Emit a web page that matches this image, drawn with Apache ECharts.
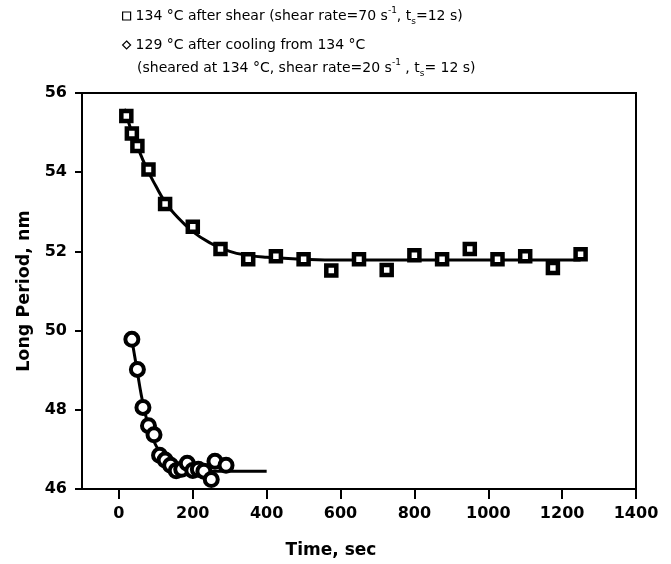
<!DOCTYPE html>
<html>
<head>
    <meta charset="utf-8">
    <title>Long Period vs Time</title>
    <script src="https://cdn.jsdelivr.net/npm/echarts@6/dist/echarts.min.js"></script>
    <style>
        html, body { margin: 0; padding: 0; background: #fff; }
        #chart { width: 671px; height: 564px; }
    </style>
</head>
<body>
    <div id="chart"></div>
    <script>
        // 134 C after shear (measured)
        var shearTime = [20, 35, 50, 80, 125, 200, 275, 350, 425, 500, 575, 650, 725, 800, 875, 950, 1025, 1100, 1175, 1250];
        var shearPeriod = [55.42, 54.98, 54.66, 54.07, 53.2, 52.62, 52.06, 51.8, 51.88, 51.8, 51.52, 51.8, 51.53, 51.9, 51.8, 52.06, 51.8, 51.88, 51.58, 51.93];
        // fitted curve
        var shearFitTime = [15, 30, 50, 75, 100, 125, 150, 200, 250, 300, 350, 400, 500, 600, 800, 1000, 1250];
        var shearFitPeriod = [55.6, 55.15, 54.65, 54.1, 53.65, 53.25, 52.95, 52.5, 52.2, 52.0, 51.9, 51.85, 51.8, 51.78, 51.78, 51.78, 51.78];

        // 129 C after cooling (measured)
        var coolTime = [35, 50, 65, 80, 95, 110, 125, 140, 155, 170, 185, 200, 215, 230, 250, 260, 290];
        var coolPeriod = [49.78, 49.02, 48.06, 47.6, 47.37, 46.85, 46.73, 46.6, 46.46, 46.5, 46.65, 46.47, 46.5, 46.45, 46.24, 46.7, 46.6];
        var coolFitTime = [33, 40, 50, 60, 70, 80, 95, 110, 125, 150, 175, 200, 250, 300, 400];
        var coolFitPeriod = [49.9, 49.5, 48.95, 48.4, 47.95, 47.6, 47.2, 46.95, 46.75, 46.6, 46.5, 46.47, 46.45, 46.45, 46.45];

        var xTicks = [0, 200, 400, 600, 800, 1000, 1200, 1400];

        function pairs(xs, ys) {
            return xs.map(function (x, i) { return [x, ys[i]]; });
        }

        var font = 'DejaVu Sans';
        var richSup = {
            sup: { fontSize: 9, verticalAlign: 'top', fontFamily: font, color: '#000' },
            sub: { fontSize: 9, verticalAlign: 'bottom', fontFamily: font, color: '#000' }
        };

        var nameA = '134 °C after shear';
        var nameB = '129 °C after cooling from 134 °C';

        var chart = echarts.init(document.getElementById('chart'));
        chart.setOption({
            animation: false,
            backgroundColor: '#fff',
            title: {
                text: '(sheared at 134 °C, shear rate=20 s{sup|-1} , t{sub|s}= 12 s)',
                left: 137,
                top: 58,
                padding: 0,
                textStyle: {
                    fontFamily: font, fontSize: 14, fontWeight: 'normal', color: '#000',
                    lineHeight: 20, rich: richSup
                }
            },
            legend: {
                orient: 'vertical',
                left: 122,
                top: 6,
                padding: 0,
                itemGap: 9,
                itemWidth: 8,
                itemHeight: 8,
                selectedMode: false,
                data: [
                    { name: nameA, icon: 'rect', itemStyle: { color: '#fff', borderColor: '#000', borderWidth: 1.2 } },
                    { name: nameB, icon: 'diamond', itemStyle: { color: '#fff', borderColor: '#000', borderWidth: 1.2 } }
                ],
                formatter: function (name) {
                    if (name === nameA) {
                        return '134 °C after shear (shear rate=70 s{sup|-1}, t{sub|s}=12 s)';
                    }
                    return name;
                },
                textStyle: {
                    fontFamily: font, fontSize: 14, color: '#000', lineHeight: 20, rich: richSup
                }
            },
            grid: {
                left: 82, right: 35, top: 93, bottom: 69,
                show: true, borderColor: '#000', borderWidth: 2
            },
            xAxis: {
                type: 'value',
                min: -100, max: 1400,
                name: 'Time, sec',
                nameLocation: 'middle',
                nameGap: 53,
                nameTextStyle: {
                    fontFamily: font, fontSize: 17, fontWeight: 'bold', color: '#000',
                    padding: [0, 56, 0, 0]
                },
                axisLine: { onZero: false, lineStyle: { color: '#000', width: 2 } },
                axisTick: { show: true, length: 10, customValues: xTicks, lineStyle: { color: '#000', width: 2 } },
                axisLabel: {
                    customValues: xTicks, margin: 17,
                    fontFamily: font, fontSize: 16, fontWeight: 'bold', color: '#000',
                    formatter: function (v) { return String(v); }
                },
                splitLine: { show: false }
            },
            yAxis: {
                type: 'value',
                min: 46, max: 56, interval: 2,
                name: 'Long Period, nm',
                nameLocation: 'middle',
                nameGap: 49,
                nameTextStyle: { fontFamily: font, fontSize: 17.5, fontWeight: 'bold', color: '#000' },
                axisLine: { onZero: false, lineStyle: { color: '#000', width: 2 } },
                axisTick: { show: true, length: 7, lineStyle: { color: '#000', width: 2 } },
                axisLabel: { margin: 15, fontFamily: font, fontSize: 16, fontWeight: 'bold', color: '#000' },
                splitLine: { show: false }
            },
            series: [{
                name: nameA + ' fit',
                type: 'line',
                smooth: true,
                showSymbol: false,
                data: pairs(shearFitTime, shearFitPeriod),
                lineStyle: { color: '#000', width: 3 },
                z: 2
            }, {
                name: nameA,
                type: 'scatter',
                symbol: 'rect',
                symbolSize: 10,
                data: pairs(shearTime, shearPeriod),
                itemStyle: { color: '#fff', borderColor: '#000', borderWidth: 4.5, opacity: 1 },
                z: 3
            }, {
                name: nameB + ' fit',
                type: 'line',
                smooth: true,
                showSymbol: false,
                data: pairs(coolFitTime, coolFitPeriod),
                lineStyle: { color: '#000', width: 3 },
                z: 2
            }, {
                name: nameB,
                type: 'scatter',
                symbol: 'circle',
                symbolSize: 13,
                data: pairs(coolTime, coolPeriod),
                itemStyle: { color: '#fff', borderColor: '#000', borderWidth: 4, opacity: 1 },
                z: 3
            }]
        });
    </script>
</body>
</html>
